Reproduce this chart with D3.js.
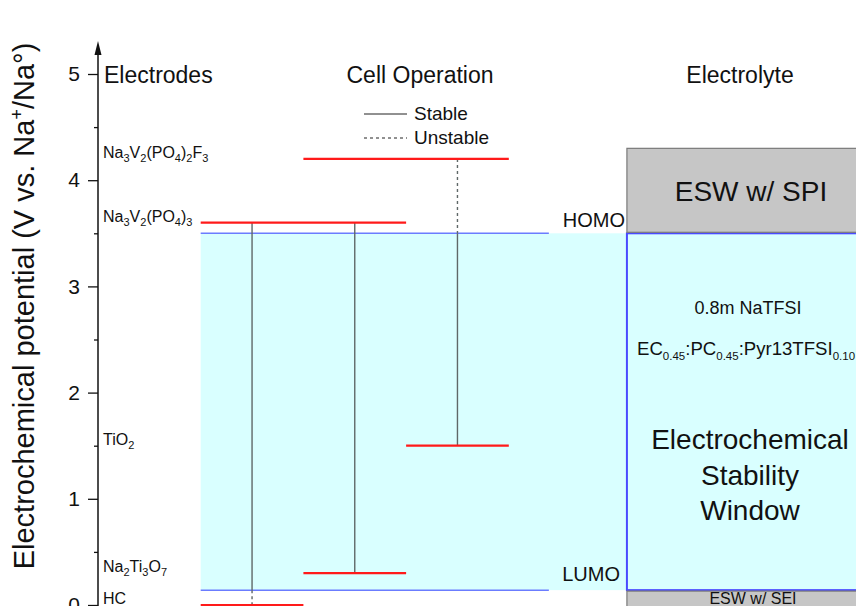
<!DOCTYPE html>
<html>
<head>
<meta charset="utf-8">
<script src="https://cdn.jsdelivr.net/npm/d3@7"></script>
<style>
  body { margin: 0; background: #fff; }
  svg { font-family: "Liberation Sans", Arial, sans-serif; }
</style>
</head>
<body>
<div id="chart"></div>
<script>
// Electrode potentials (V vs. Na+/Na)
const electrodeNames = ["HC", "Na2Ti3O7", "TiO2", "Na3V2(PO4)3", "Na3V2(PO4)2F3"];
const electrodeLabels = [
  [["HC", 0]],
  [["Na", 0], ["2", 1], ["Ti", 0], ["3", 1], ["O", 0], ["7", 1]],
  [["TiO", 0], ["2", 1]],
  [["Na", 0], ["3", 1], ["V", 0], ["2", 1], ["(PO", 0], ["4", 1], [")", 0], ["3", 1]],
  [["Na", 0], ["3", 1], ["V", 0], ["2", 1], ["(PO", 0], ["4", 1], [")", 0], ["2", 1], ["F", 0], ["3", 1]]
];
const electrodePotentials = [0, 0.3, 1.5, 3.6, 4.2];

// Red level bars: potential and column span (column units)
const levelValues = [0, 0.3, 3.6, 4.2, 1.5];
const levelStart = [0, 1, 0, 1, 2];
const levelEnd = [1, 2, 2, 3, 3];

// Cell connections: column, from, to, stable?
const cellColumn = [0.5, 0.5, 1.5, 2.5, 2.5];
const cellFrom = [3.6, 0.14, 3.6, 4.2, 3.5];
const cellTo = [0.14, 0, 0.3, 3.5, 1.5];
const cellStable = [true, false, true, false, true];

// Electrolyte window
const homo = 3.5;
const lumo = 0.14;
const spiTop = 4.3;
const seiBottom = -0.4;

const yTicks = [0, 1, 2, 3, 4, 5];
const yMinorTicks = [0.5, 1.5, 2.5, 3.5, 4.5];

const width = 856, height = 606;

const svg = d3.select("#chart")
  .append("svg")
  .attr("width", width)
  .attr("height", height);

// Scales
const y = d3.scaleLinear().domain([0, 5]).range([605, 74]);
const x = d3.scaleLinear().domain([-1, 6.4]).range([98, 858]);
const boxLeft = 4.15;
const lineRight = 3.39;

// Cyan stability window
svg.append("rect")
  .attr("x", x(0)).attr("y", y(homo))
  .attr("width", x(6.4) - x(0))
  .attr("height", y(lumo) - y(homo))
  .attr("fill", "#d9ffff");

// HOMO / LUMO lines
svg.selectAll(".hl")
  .data([homo, lumo])
  .join("line")
  .attr("x1", x(0)).attr("x2", x(lineRight))
  .attr("y1", d => y(d)).attr("y2", d => y(d))
  .attr("stroke", "#6b7cff")
  .attr("stroke-width", 1.5);

// Right electrolyte box
svg.append("rect")
  .attr("x", x(boxLeft)).attr("y", y(homo))
  .attr("width", x(6.4) - x(boxLeft) + 10)
  .attr("height", y(lumo) - y(homo))
  .attr("fill", "#d9ffff")
  .attr("stroke", "#4a4aff")
  .attr("stroke-width", 2);

// SPI / SEI boxes
svg.append("rect")
  .attr("x", x(boxLeft)).attr("y", y(spiTop))
  .attr("width", x(6.4) - x(boxLeft) + 10)
  .attr("height", y(homo) - y(spiTop) - 1)
  .attr("fill", "#c6c6c6")
  .attr("stroke", "#7a7a7a")
  .attr("stroke-width", 1.2);
svg.append("rect")
  .attr("x", x(boxLeft)).attr("y", y(lumo) + 1)
  .attr("width", x(6.4) - x(boxLeft) + 10)
  .attr("height", y(seiBottom) - y(lumo))
  .attr("fill", "#c6c6c6")
  .attr("stroke", "#7a7a7a")
  .attr("stroke-width", 1.2);

// Cell connections
svg.selectAll(".cell")
  .data(cellColumn.map((c, i) => ({ c, a: cellFrom[i], b: cellTo[i], s: cellStable[i] })))
  .join("line")
  .attr("x1", d => x(d.c)).attr("x2", d => x(d.c))
  .attr("y1", d => y(d.a)).attr("y2", d => y(d.b))
  .attr("stroke", "#5f6868")
  .attr("stroke-width", 1.4)
  .attr("stroke-dasharray", d => d.s ? null : "3,3");

// Red levels
svg.selectAll(".level")
  .data(levelValues.map((v, i) => ({ v, a: levelStart[i], b: levelEnd[i] })))
  .join("line")
  .attr("x1", d => x(d.a)).attr("x2", d => x(d.b))
  .attr("y1", d => y(d.v)).attr("y2", d => y(d.v))
  .attr("stroke", "#ff1a1a")
  .attr("stroke-width", 2.2);

// Y axis
const yAxis = svg.append("g")
  .attr("transform", `translate(${x(-1)},0)`)
  .call(d3.axisLeft(y).tickValues(yTicks).tickFormat(d3.format("d"))
    .tickSize(10).tickSizeOuter(0).tickPadding(8));
yAxis.select(".domain").remove();
yAxis.selectAll("text").attr("font-size", 21).attr("fill", "#111").attr("font-family", "Liberation Sans, Arial, sans-serif");
yAxis.selectAll("line").attr("stroke", "#111").attr("stroke-width", 1.3);
svg.append("g")
  .attr("transform", `translate(${x(-1)},0)`)
  .call(d3.axisLeft(y).tickValues(yMinorTicks).tickSize(4).tickFormat(""))
  .call(g => g.select(".domain").remove())
  .selectAll("line").attr("stroke", "#111").attr("stroke-width", 1.3);

svg.append("line")
  .attr("x1", x(-1)).attr("x2", x(-1))
  .attr("y1", y(-0.1)).attr("y2", 50)
  .attr("stroke", "#111").attr("stroke-width", 1.5);
svg.append("path")
  .attr("d", `M${x(-1)},41 L${x(-1) - 3.5},55 L${x(-1) + 3.5},55 Z`)
  .attr("fill", "#111");

// Y axis title
const yt = svg.append("text")
  .attr("transform", "translate(34,306) rotate(-90)")
  .attr("text-anchor", "middle")
  .attr("font-size", 29)
  .attr("fill", "#111");
yt.append("tspan").text("Electrochemical potential (V vs. Na");
yt.append("tspan").attr("font-size", 18).attr("dy", -11).text("+");
yt.append("tspan").attr("dy", 11).text("/Na°)");

// Column headers
const headers = [["Electrodes", 104, "start"], ["Cell Operation", 420, "middle"], ["Electrolyte", 740, "middle"]];
svg.selectAll(".hdr")
  .data(headers)
  .join("text")
  .attr("x", d => d[1]).attr("y", 83)
  .attr("text-anchor", d => d[2])
  .attr("font-size", 23)
  .attr("fill", "#111")
  .text(d => d[0]);

// Sub/normal text helper
function richText(sel, parts, size, subSize, shift) {
  let prev = 0;
  parts.forEach(([t, sub]) => {
    const dy = (sub ? shift : 0) - (prev ? shift : 0);
    sel.append("tspan")
      .attr("font-size", sub ? subSize : size)
      .attr("dy", dy)
      .text(t);
    prev = sub;
  });
}

// Electrode labels
electrodeLabels.forEach((parts, i) => {
  const t = svg.append("text")
    .attr("x", 103)
    .attr("y", y(electrodePotentials[i]) - 1)
    .attr("font-size", 16)
    .attr("fill", "#111");
  t.append("title").text(electrodeNames[i]);
  richText(t, parts, 16, 11, 4);
});

// Legend
const legendY = [114, 138];
const legendText = ["Stable", "Unstable"];
svg.selectAll(".lgl")
  .data(legendY)
  .join("line")
  .attr("x1", 364).attr("x2", 407)
  .attr("y1", d => d).attr("y2", d => d)
  .attr("stroke", "#222")
  .attr("stroke-width", 1)
  .attr("stroke-dasharray", (d, i) => i ? "3,3" : null);
svg.selectAll(".lgt")
  .data(legendY)
  .join("text")
  .attr("x", 414).attr("y", d => d + 6)
  .attr("font-size", 19)
  .attr("fill", "#111")
  .text((d, i) => legendText[i]);

// HOMO / LUMO labels
svg.append("text").attr("x", 625).attr("y", y(homo) - 6)
  .attr("text-anchor", "end").attr("font-size", 20).attr("fill", "#111").text("HOMO");
svg.append("text").attr("x", 620).attr("y", y(lumo) - 9)
  .attr("text-anchor", "end").attr("font-size", 20).attr("fill", "#111").text("LUMO");

// Box texts
svg.append("text").attr("x", 751).attr("y", (y(spiTop) + y(homo)) / 2 + 10)
  .attr("text-anchor", "middle").attr("font-size", 28).attr("fill", "#111").text("ESW w/ SPI");
svg.append("text").attr("x", 753).attr("y", 604)
  .attr("text-anchor", "middle").attr("font-size", 16).attr("fill", "#111").text("ESW w/ SEI");

svg.append("text").attr("x", 748).attr("y", 314)
  .attr("text-anchor", "middle").attr("font-size", 18).attr("fill", "#111").text("0.8m NaTFSI");
const ec = svg.append("text").attr("x", 637).attr("y", 355)
  .attr("font-size", 18.6).attr("fill", "#111");
richText(ec, [["EC", 0], ["0.45", 1], [":PC", 0], ["0.45", 1], [":Pyr13TFSI", 0], ["0.10", 1]], 18.6, 11.5, 5);

const windowLines = ["Electrochemical", "Stability", "Window"];
svg.selectAll(".wl")
  .data(windowLines)
  .join("text")
  .attr("x", 750).attr("y", (d, i) => 449 + i * 35.5)
  .attr("text-anchor", "middle")
  .attr("font-size", 28)
  .attr("fill", "#111")
  .text(d => d);
</script>
</body>
</html>
